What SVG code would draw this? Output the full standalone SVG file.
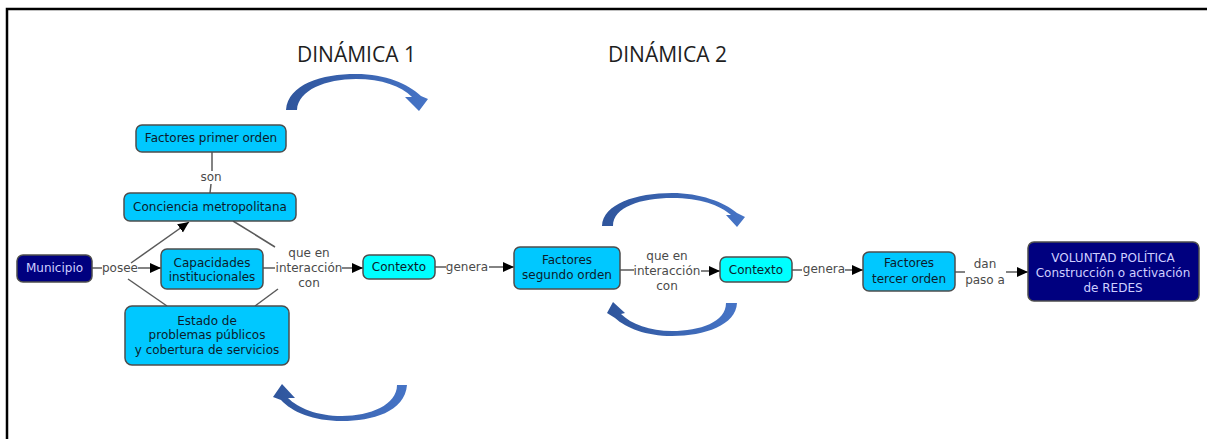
<svg xmlns="http://www.w3.org/2000/svg" width="1207" height="439" viewBox="0 0 1207 439">
<style>
.n{stroke:#4d4d4d;stroke-width:1.5}
.lb{fill:#00c8ff}
.cy{fill:#00ffff}
.dk{fill:#00007f}
.t{font-family:"DejaVu Sans",Verdana,sans-serif;font-size:12px;text-anchor:middle;fill:#0c1c2c}
.tw{font-family:"DejaVu Sans",Verdana,sans-serif;font-size:12px;text-anchor:middle;fill:#cfcfff}
.l{font-family:"DejaVu Sans",Verdana,sans-serif;font-size:12px;text-anchor:middle;fill:#4a4a4a}
.c{stroke:#5a5a5a;stroke-width:1.5;fill:none}
.h{font-family:"Open Sans","Liberation Sans",sans-serif;font-size:21px;fill:#1e1e1e}
.arc{fill:url(#g)}
</style>
<defs>
<marker id="a" markerUnits="userSpaceOnUse" markerWidth="12" markerHeight="12" viewBox="0 0 12 12" refX="11" refY="6" orient="auto">
<path d="M0,1 L11,6 L0,11 Z" fill="#000"/>
</marker>
<linearGradient id="g" x1="0" y1="0" x2="1" y2="0">
<stop offset="0" stop-color="#2f559c"/>
<stop offset="1" stop-color="#4674c6"/>
</linearGradient>
</defs>
<rect x="0" y="0" width="1207" height="439" fill="#fff"/>
<path d="M7,440 L7,9 L1208,9" fill="none" stroke="#000" stroke-width="2.5"/>

<text class="h" x="297" y="62">DINÁMICA 1</text>
<text class="h" x="608" y="62">DINÁMICA 2</text>

<g id="arcs">
<path class="arc" d="M286,110 C288,84 322,74 356,74 C386,74 408,84 421,96 L428,99 L419,111 L405,97 L412,97 C401,86 382,79 356,79 C326,79 298,90 297,110 Z"/>
<path class="arc" d="M407,385 C405,412 372,421 342,421 C313,421 292,412 281,400 L273,397 L282,384 L295,398 L288,398 C298,408 317,416 342,416 C370,416 397,405 397,385 Z"/>
<path class="arc" d="M602,226 C603,204 636,193 672,193 C700,193 724,202 737,213 L745,217 L737,227 L726,215 L731,215 C720,205 700,198 672,198 C641,198 613,207 613,226 Z"/>
<path class="arc" d="M737,303 C736,325 705,336 672,336 C646,336 626,328 615,318 L607,313 L613,302 L625,313 L621,314 C631,324 650,331 672,331 C700,331 726,322 726,303 Z"/>
</g>

<g id="connectors">
<path class="c" d="M212,152 L212,171"/>
<path class="c" d="M211,184 L210,193"/>
<path class="c" d="M92,268 L102,268"/>
<path class="c" d="M138,268 L161,268" marker-end="url(#a)"/>
<path class="c" d="M131,263 L189,222" marker-end="url(#a)"/>
<path class="c" d="M128,279 L167,306"/>
<path class="c" d="M263,268 L275,268"/>
<path class="c" d="M233,221 L275,247"/>
<path class="c" d="M255,306 L278,289"/>
<path class="c" d="M342,268 L363,268" marker-end="url(#a)"/>
<path class="c" d="M435,267 L446,267"/>
<path class="c" d="M489,267 L514,267" marker-end="url(#a)"/>
<path class="c" d="M620,270 L634,270"/>
<path class="c" d="M701,271 L720,271" marker-end="url(#a)"/>
<path class="c" d="M792,270 L802,270"/>
<path class="c" d="M845,270 L863,270" marker-end="url(#a)"/>
<path class="c" d="M955,272 L965,272"/>
<path class="c" d="M1006,272 L1028,272" marker-end="url(#a)"/>
<text class="l" x="211" y="181">son</text>
<text class="l" x="120" y="272">posee</text>
<text class="l" x="309" y="257">que en</text>
<text class="l" x="309" y="272">interacción</text>
<text class="l" x="309" y="287">con</text>
<text class="l" x="467" y="271">genera</text>
<text class="l" x="667" y="260">que en</text>
<text class="l" x="667" y="275">interacción</text>
<text class="l" x="667" y="290">con</text>
<text class="l" x="824" y="273">genera</text>
<text class="l" x="985" y="268">dan</text>
<text class="l" x="985" y="284">paso a</text>
</g>

<g id="factores-primer">
<rect class="n lb" x="136" y="125" width="150" height="27" rx="6"/>
<text class="t" x="211" y="142">Factores primer orden</text>
</g>
<g id="conciencia">
<rect class="n lb" x="124" y="193" width="172" height="28" rx="6"/>
<text class="t" x="210" y="211">Conciencia metropolitana</text>
</g>
<g id="municipio">
<rect class="n dk" x="17" y="255" width="75" height="27" rx="6"/>
<text class="tw" x="54.5" y="272">Municipio</text>
</g>
<g id="capacidades">
<rect class="n lb" x="161" y="249" width="102" height="40" rx="6"/>
<text class="t" x="212" y="267">Capacidades</text>
<text class="t" x="212" y="281">institucionales</text>
</g>
<g id="estado">
<rect class="n lb" x="125" y="306" width="164" height="59" rx="7"/>
<text class="t" x="207" y="325">Estado de</text>
<text class="t" x="207" y="339">problemas públicos</text>
<text class="t" x="207" y="354">y cobertura de servicios</text>
</g>
<g id="contexto1">
<rect class="n cy" x="363" y="255" width="72" height="24" rx="6"/>
<text class="t" x="399" y="271">Contexto</text>
</g>
<g id="factores-segundo">
<rect class="n lb" x="514" y="247" width="106" height="42" rx="6"/>
<text class="t" x="567" y="264">Factores</text>
<text class="t" x="567" y="279">segundo orden</text>
</g>
<g id="contexto2">
<rect class="n cy" x="720" y="257" width="72" height="25" rx="6"/>
<text class="t" x="756" y="274">Contexto</text>
</g>
<g id="factores-tercer">
<rect class="n lb" x="863" y="252" width="92" height="39" rx="6"/>
<text class="t" x="909" y="267">Factores</text>
<text class="t" x="909" y="283">tercer orden</text>
</g>
<g id="voluntad">
<rect class="n dk" x="1028" y="242" width="171" height="59" rx="6"/>
<text class="tw" x="1113" y="262">VOLUNTAD POLÍTICA</text>
<text class="tw" x="1113" y="277">Construcción o activación</text>
<text class="tw" x="1113" y="292">de REDES</text>
</g>
</svg>
